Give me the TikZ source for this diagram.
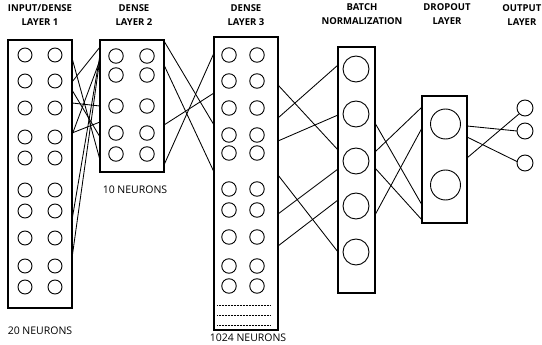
\documentclass[tikz,border=0pt]{standalone}
\usepackage{fontspec}
\setmainfont{Open Sans}
\usetikzlibrary{calc}
\begin{document}
\begin{tikzpicture}[x=1pt,y=-1pt,
  box/.style={draw, line width=1.1pt, inner sep=0pt, outer sep=0pt, minimum width=#1},
  neu/.style={circle, draw, line width=0.9pt, inner sep=0pt, outer sep=0pt, minimum size=#1},
  conn/.style={line width=0.85pt},
  head/.style={font=\fontsize{9.5}{14}\selectfont\bfseries, align=center, inner sep=0pt},
  cnt/.style={font=\fontsize{10.5}{12}\selectfont, inner sep=0pt},
  dots/.style={line width=0.5pt, densely dotted}]
\useasboundingbox (0,0) rectangle (542,345);
% headers
\node[head] (h1) at (40,15.5) {INPUT/DENSE\\LAYER 1};
\node[head] (h2) at (134,15.5) {DENSE\\LAYER 2};
\node[head] (h3) at (246,15.5) {DENSE\\LAYER 3};
\node[head] (h4) at (362,14.5) {BATCH\\NORMALIZATION};
\node[head] (h5) at (447,14.5) {DROPOUT\\LAYER};
\node[head, anchor=east] (h6) at (541.5,15.5) {OUTPUT\\LAYER};
% boxes
\node[box=64pt, minimum height=268pt] (L1) at (40,174) {};
\node[box=64pt, minimum height=132pt] (L2) at (132,106) {};
\node[box=64pt, minimum height=293pt] (L3) at (246,183.5) {};
\node[box=37pt, minimum height=246pt] (BN) at (356.5,170) {};
\node[box=45pt, minimum height=127pt] (DO) at (444.5,159.5) {};
% layer 1 neurons
\foreach \y [count=\i] in {55,81,108,137,158,190,211,238,266,287}{
  \node[neu=14pt] (a\i) at (25,\y) {};
  \node[neu=14pt] (b\i) at (55,\y) {};
}
% layer 2 neurons
\foreach \y [count=\i] in {56,75,106,133,154}{
  \node[neu=14.5pt] (c\i) at (116,\y) {};
  \node[neu=14.5pt] (d\i) at (147,\y) {};
}
% layer 3 neurons
\foreach \y [count=\i] in {55,81,108,135,153,189,210,237,266,286}{
  \node[neu=14.5pt] (e\i) at (229,\y) {};
  \node[neu=14.5pt] (f\i) at (257,\y) {};
}
\draw[dots] ($(L3.south west)+(3,-25)$) -- ($(L3.south east)+(-7,-25)$);
\draw[dots] ($(L3.south west)+(3,-15)$) -- ($(L3.south east)+(-7,-15)$);
\draw[dots] ($(L3.south west)+(3,-5)$) -- ($(L3.south east)+(-7,-5)$);
% batch norm neurons
\foreach \y [count=\i] in {69,114,161,206,252}{
  \node[neu=26pt] (g\i) at (356,\y) {};
}
% dropout neurons
\node[neu=30pt] (p1) at (445.5,124) {};
\node[neu=30pt] (p2) at (445.5,185) {};
% output neurons
\node[neu=16pt] (o1) at (525,108) {};
\node[neu=16pt] (o2) at (525,131) {};
\node[neu=16pt] (o3) at (525,163) {};
% counts
\node[cnt] (n1) at (40,331) {20 NEURONS};
\node[cnt] (n2) at (135,190) {10 NEURONS};
\node[cnt] (n3) at (248,338) {1024 NEURONS};
% L1 -> L2
\foreach \u/\v in {58/160, 82/47, 90/137, 103/106, 135/60, 133/122, 220/55, 258/58}{
  \draw[conn] ($(L1.north east)+(0,\u-40)$) -- ($(L2.north west)+(0,\v-40)$);
}
% L2 -> L3
\foreach \u/\v in {41/125, 65/172, 125/93, 165/53}{
  \draw[conn] ($(L2.north east)+(0,\u-40)$) -- ($(L3.north west)+(0,\v-37)$);
}
% L3 -> BN
\foreach \u/\v in {85/150, 118/65, 141/115, 175/252, 214/169, 246/200}{
  \draw[conn] ($(L3.north east)+(0,\u-37)$) -- ($(BN.north west)+(0,\v-47)$);
}
% BN -> DO
\foreach \u/\v in {123/205, 152/107, 168/220, 215/128}{
  \draw[conn] ($(BN.north east)+(0,\u-47)$) -- ($(DO.north west)+(0,\v-96)$);
}
% DO -> output
\draw[conn] ($(DO.north east)+(0,126-96)$) -- (o2.west);
\draw[conn] ($(DO.north east)+(0,137-96)$) -- (o3.170);
\draw[conn] ($(DO.north east)+(0,158-96)$) -- (o1.225);
\end{tikzpicture}
\end{document}
